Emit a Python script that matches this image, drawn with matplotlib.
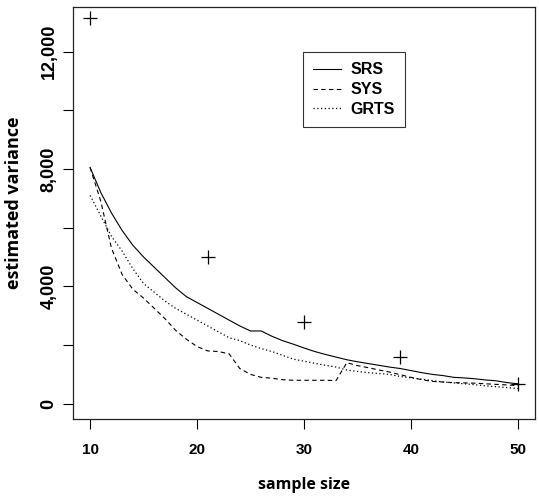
import matplotlib
matplotlib.use("Agg")
import matplotlib.pyplot as plt
from matplotlib.ticker import FuncFormatter

# sample sizes and estimated variances
n = list(range(10, 51))
srs = [8050, 7200, 6500, 5900, 5400, 5000, 4650, 4300, 3950, 3650,
       3450, 3250, 3050, 2850, 2650, 2480, 2480, 2300, 2150, 2030,
       1900, 1780, 1680, 1590, 1500, 1430, 1370, 1310, 1250, 1200,
       1130, 1060, 1000, 960, 900, 880, 850, 810, 780, 720, 680]
sys_ = [8050, 6900, 5300, 4400, 3900, 3600, 3250, 2900, 2500, 2200,
        1950, 1800, 1780, 1700, 1200, 1000, 900, 870, 820, 800,
        800, 800, 800, 790, 1400, 1300, 1230, 1150, 1080, 990,
        900, 820, 760, 740, 720, 710, 700, 680, 660, 640, 620]
grts = [7100, 6400, 5700, 5200, 4600, 4100, 3800, 3500, 3250, 3050,
        2850, 2650, 2450, 2250, 2150, 2000, 1880, 1780, 1650, 1520,
        1450, 1380, 1310, 1250, 1150, 1100, 1060, 1030, 1000, 930,
        880, 840, 790, 740, 710, 680, 650, 610, 580, 550, 520]

# true variances (crosses)
pts_n = [10, 21, 30, 39, 50]
pts_var = [13150, 5000, 2780, 1600, 660]

tick_font = "Liberation Sans"
label_font = "Open Sans"

fig = plt.figure(figsize=(5.39, 4.99), dpi=100)
ax = fig.add_axes([0.1354, 0.1603, 0.8572, 0.8257])

ax.plot(n, srs, color="black", lw=0.8, ls="-", label="SRS")
ax.plot(n, sys_, color="black", lw=0.8, ls=(0, (4, 3)), label="SYS")
ax.plot(n, grts, color="black", lw=0.9, ls=(0, (1, 2)), label="GRTS")
ax.plot(pts_n, pts_var, ls="none", marker="+", ms=10, mew=0.9, color="black")

ax.set_xlim(8.4, 51.6)
ax.set_ylim(-520, 13520)

ax.set_xticks([10, 20, 30, 40, 50])
ax.set_yticks(range(0, 13000, 2000))
ax.yaxis.set_major_formatter(
    FuncFormatter(lambda v, p: f"{int(v):,}" if v % 4000 == 0 else ""))

ax.tick_params(axis="x", length=7, width=0.8, pad=10, labelsize=11)
ax.tick_params(axis="y", length=7, width=0.8, pad=4, labelsize=13)
for lab in ax.get_xticklabels():
    lab.set_fontfamily(tick_font)
    lab.set_fontweight("bold")
for lab in ax.get_yticklabels():
    lab.set_fontfamily(tick_font)
    lab.set_fontweight("bold")
    lab.set_rotation(90)
    lab.set_va("center")

for s in ax.spines.values():
    s.set_linewidth(0.9)
    s.set_color("#222222")

ax.set_xlabel("sample size", fontfamily=label_font, fontweight="bold",
              fontsize=11.5, labelpad=15)
ax.set_ylabel("estimated variance", fontfamily=label_font, fontweight="bold",
              fontsize=13, labelpad=8)
ax.yaxis.set_label_coords(-0.108, 0.525)

leg = fig.legend(*ax.get_legend_handles_labels(),
                 loc="upper left", bbox_to_anchor=(303 / 539, 1 - 52 / 499),
                 borderaxespad=0, frameon=True, fancybox=False,
                 edgecolor="black", handlelength=1.7, handletextpad=0.6,
                 borderpad=0.65, labelspacing=0.3,
                 prop={"family": tick_font, "weight": "bold", "size": 11.5})
leg.get_frame().set_linewidth(0.8)

fig.savefig("out.png", dpi=100)
